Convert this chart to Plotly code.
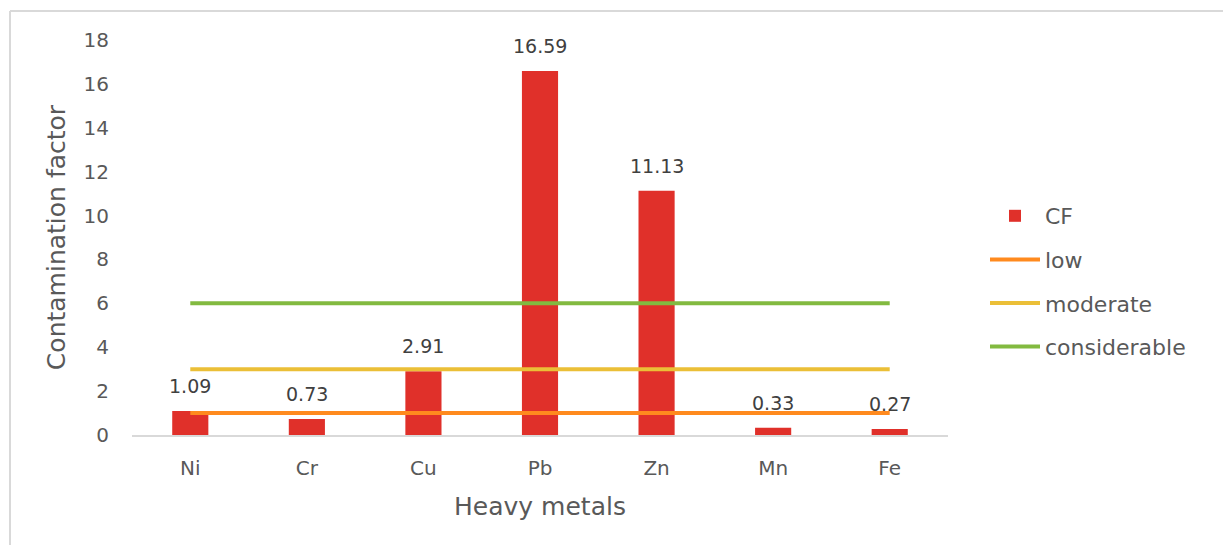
import plotly.graph_objects as go

metals = ["Ni", "Cr", "Cu", "Pb", "Zn", "Mn", "Fe"]
cf_values = [1.09, 0.73, 2.91, 16.59, 11.13, 0.33, 0.27]
threshold_names = ["low", "moderate", "considerable"]
threshold_values = [1, 3, 6]
y_ticks = [0, 2, 4, 6, 8, 10, 12, 14, 16, 18]

FONT = "DejaVu Sans"
TXT = "#595959"
line_colors = ["#FF8A1E", "#EBBF37", "#82BA40"]

fig = go.Figure()
fig.add_trace(go.Bar(
    x=metals, y=cf_values, name="CF",
    marker=dict(color="#E0302A", line=dict(width=0)),
    legendgroup="cf",
))
for name, val, col in zip(threshold_names, threshold_values, line_colors):
    fig.add_trace(go.Scatter(
        x=metals, y=[val] * len(metals), name=name, mode="lines",
        line=dict(color=col, width=4), legendgroup=name,
    ))

# value labels above each bar
for m, v in zip(metals, cf_values):
    fig.add_annotation(x=m, y=v, text=f"{v:.2f}", showarrow=False,
                       yanchor="middle", yshift=25,
                       font=dict(family=FONT, size=19, color="#404040"))

W, H = 1223, 545
L, R, T, B = 132, 275, 40, 110
pw, ph = W - L - R, H - T - B

def px(x):
    return (x - L) / pw

def py(y):
    return (H - B - y) / ph

# outer frame (left and top edges visible)
fig.add_shape(type="line", xref="paper", yref="paper",
              x0=px(10), x1=px(W + 5), y0=py(11), y1=py(11),
              line=dict(color="#D9D9D9", width=2))
fig.add_shape(type="line", xref="paper", yref="paper",
              x0=px(10), x1=px(10), y0=py(11), y1=py(H + 5),
              line=dict(color="#D9D9D9", width=2))

fig.update_layout(
    width=W, height=H,
    margin=dict(l=L, r=R, t=T, b=B, pad=0),
    plot_bgcolor="white", paper_bgcolor="white",
    bargap=0.69,
    font=dict(family=FONT, color=TXT, size=19),
    showlegend=True,
    legend=dict(x=px(985), y=py(195), xanchor="left", yanchor="top",
                font=dict(family=FONT, size=22, color=TXT),
                tracegroupgap=12, itemwidth=50, traceorder="grouped",
                bgcolor="rgba(0,0,0,0)"),
    xaxis=dict(showgrid=False, showline=True, linecolor="#D9D9D9", linewidth=2,
               ticks="", ticklabelstandoff=14, tickfont=dict(size=20, color=TXT),
               title=dict(text="Heavy metals", font=dict(size=25, color=TXT), standoff=18),
               zeroline=False),
    yaxis=dict(range=[0, 18], tickvals=y_ticks, showgrid=False, showline=False,
               zeroline=False, ticks="", ticklabelstandoff=22,
               tickfont=dict(size=20, color=TXT),
               title=dict(text="Contamination factor", font=dict(size=25, color=TXT), standoff=10)),
)

fig.write_html("out.html")
